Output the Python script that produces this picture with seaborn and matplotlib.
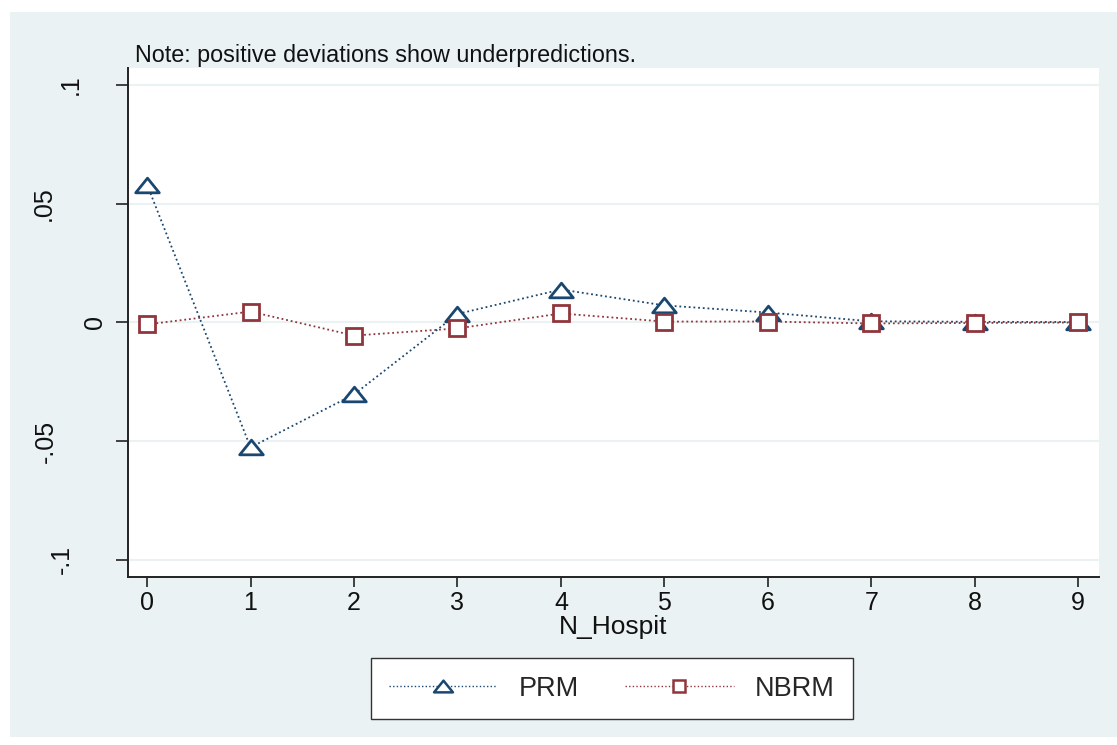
import numpy as np
import pandas as pd
import matplotlib
matplotlib.use("Agg")
import matplotlib.pyplot as plt
from matplotlib.patches import Rectangle
from matplotlib.path import Path
import seaborn as sns

# ---- data ----
n_hospit = [0, 1, 2, 3, 4, 5, 6, 7, 8, 9]
prm = [0.0581, -0.0526, -0.0303, 0.0036, 0.0139, 0.0072, 0.0042, 0.0005, 0.0003, 0.0002]
nbrm = [-0.0008, 0.0046, -0.0055, -0.0025, 0.0038, 0.0004, 0.0004, -0.0004, -0.0002, 0.0000]
series_names = ["PRM", "NBRM"]
ytick_vals = [-0.1, -0.05, 0, 0.05, 0.1]
ytick_labels = ["-.1", "-.05", "0", ".05", ".1"]
note = "Note: positive deviations show underpredictions."

sns.set_theme(style="white")
plt.rcParams["font.family"] = ["Liberation Sans", "DejaVu Sans"]

W, H = 1117, 745
fig = plt.figure(figsize=(W / 100, H / 100), dpi=100, facecolor="white")
bg = "#EAF2F3"
fig.patches.append(Rectangle((10 / W, 8 / H), (W - 10) / W, (H - 20) / H,
                             transform=fig.transFigure, facecolor=bg,
                             edgecolor="none", zorder=-5))

L, R, T, B = 128, 1099, 68, 577
ax = fig.add_axes([L / W, 1 - B / H, (R - L) / W, (B - T) / H])
ax.set_zorder(2)
ax.set_facecolor("white")

df = pd.DataFrame({"N_Hospit": n_hospit * 2,
                   "dev": prm + nbrm,
                   "model": [series_names[0]] * len(prm) + [series_names[1]] * len(nbrm)})

colors = {"PRM": "#1A476F", "NBRM": "#90353B"}
tri = Path([(-1.0, -0.62), (1.0, -0.62), (0.0, 0.62), (-1.0, -0.62)],
           [Path.MOVETO, Path.LINETO, Path.LINETO, Path.CLOSEPOLY])
markers = {"PRM": tri, "NBRM": "s"}
msize = {"PRM": 17, "NBRM": 11}

for name in series_names:
    sub = df[df["model"] == name]
    sns.lineplot(data=sub, x="N_Hospit", y="dev", ax=ax, color=colors[name],
                 marker=markers[name], markersize=msize[name],
                 markerfacecolor="white", markeredgecolor=colors[name],
                 markeredgewidth=2.0, linestyle=(0, (1, 1.6)), linewidth=1.3,
                 label=name, legend=False)

ax.set_xlim(-0.184, 9.20)
ax.set_ylim(-0.1072, 0.1072)
ax.set_xticks(n_hospit)
ax.set_xticklabels([str(v) for v in n_hospit], fontsize=18)
ax.set_yticks(ytick_vals)
ax.set_yticklabels(ytick_labels, fontsize=18, rotation=90, va="center", ha="center")

# Stata-like placement of rotated y labels (centres in pixels)
ytick_len_pt = 8.5
off_px = ytick_len_pt * 100 / 72
label_px = {"-.1": 62, "-.05": 46, "0": 95, ".05": 44, ".1": 71}
for lab in ax.get_yticklabels():
    lab.set_x((label_px[lab.get_text()] + off_px - L) / (R - L))

ax.yaxis.grid(True, color=bg, linewidth=1.5)
ax.xaxis.grid(False)
for s in ["top", "right"]:
    ax.spines[s].set_visible(False)
for s in ["left", "bottom"]:
    ax.spines[s].set_color("#222222")
    ax.spines[s].set_linewidth(1.4)
ax.tick_params(axis="x", direction="out", length=7, width=1.2, color="#222222",
               pad=3, bottom=True, labelcolor="#111111")
ax.tick_params(axis="y", direction="out", length=ytick_len_pt, width=1.2,
               color="#222222", left=True, labelcolor="#111111", pad=0)
ax.set_xlabel("N_Hospit", fontsize=19, labelpad=0, color="#111111")
ax.set_ylabel("")
ax.set_title(note, loc="left", x=(135 - L) / (R - L), pad=4.3, fontsize=16.8,
             color="#111111")

handles = [
    plt.Line2D([], [], color=colors[n], marker=markers[n],
               markersize=msize[n] * 0.8, markerfacecolor="white",
               markeredgecolor=colors[n], markeredgewidth=1.8,
               linestyle=(0, (1, 1.6)), linewidth=1.0)
    for n in series_names
]
leg = fig.legend(handles, series_names, loc="center", ncol=2,
                 bbox_to_anchor=(612 / W, 1 - 688.5 / H),
                 fontsize=19.5, frameon=True, fancybox=False, shadow=False,
                 handlelength=4.0, handletextpad=0.8, columnspacing=1.7,
                 borderpad=0.65, borderaxespad=0)
leg.get_frame().set_edgecolor("#333333")
leg.get_frame().set_linewidth(1.0)
leg.get_frame().set_facecolor("white")
leg.get_frame().set_alpha(1)

fig.savefig("out.png", dpi=100, facecolor=fig.get_facecolor())
